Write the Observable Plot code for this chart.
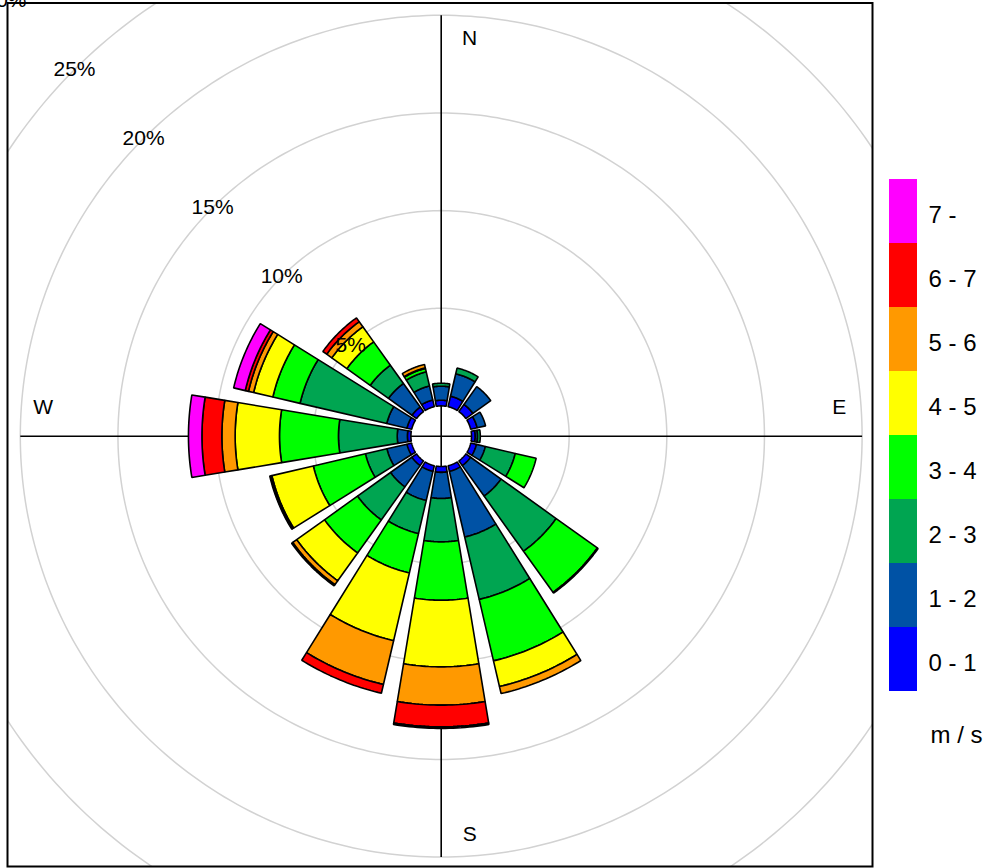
<!DOCTYPE html>
<html>
<head>
<meta charset="utf-8">
<script src="https://cdn.jsdelivr.net/npm/d3@7"></script>
<script src="https://cdn.jsdelivr.net/npm/@observablehq/plot@0.6"></script>
<style>
  html, body { margin: 0; padding: 0; background: #fff; }
  #chart { position: relative; width: 989px; height: 868px; font-family: "Liberation Sans", Arial, sans-serif; }
  #rose { position: absolute; left: 0; top: 0; }
  #key { position: absolute; left: 880px; top: 0; }
</style>
</head>
<body>
<div id="chart"><div id="rose"></div><div id="key"></div></div>
<script>
// Wind direction sectors (degrees clockwise from north), N → NNW
const directions = [0, 22.5, 45, 67.5, 90, 112.5, 135, 157.5, 180, 202.5, 225, 247.5, 270, 292.5, 315, 337.5];

// Wind speed classes (m / s) and their colours
const speedBins = ["0 - 1", "1 - 2", "2 - 3", "3 - 4", "4 - 5", "5 - 6", "6 - 7", "7 -"];
const binColors = ["#0000ff", "#0052a5", "#00a551", "#00ff00", "#ffff00", "#ff9900", "#ff0000", "#ff00ff"];

// Frequency (%) of each speed class for every direction, N → NNW
const pct0to1 = [0.29, 0.55, 0.45, 0.34, 0.19, 0.30, 0.30, 0.30, 0.30, 0.30, 0.30, 0.25, 0.18, 0.25, 0.29, 0.35];
const pct1to2 = [0.72, 1.18, 1.12, 0.44, 0.12, 0.47, 1.92, 3.45, 1.34, 1.53, 1.34, 1.05, 0.52, 1.06, 1.48, 0.74];
const pct2to3 = [0.15, 0.30, 0.00, 0.00, 0.14, 1.57, 3.47, 3.28, 2.22, 1.74, 2.08, 1.13, 3.01, 4.56, 1.15, 0.74];
const pct3to4 = [0.00, 0.00, 0.00, 0.00, 0.00, 1.10, 2.59, 3.23, 2.99, 2.07, 2.08, 2.74, 3.02, 1.43, 1.47, 0.18];
const pct4to5 = [0.00, 0.00, 0.00, 0.00, 0.00, 0.00, 0.05, 1.35, 3.41, 3.56, 1.75, 2.18, 2.27, 1.01, 0.95, 0.03];
const pct5to6 = [0.00, 0.00, 0.00, 0.00, 0.00, 0.00, 0.00, 0.37, 1.96, 2.30, 0.25, 0.08, 0.68, 0.27, 0.32, 0.18];
const pct6to7 = [0.00, 0.00, 0.00, 0.00, 0.00, 0.00, 0.00, 0.00, 1.11, 0.46, 0.07, 0.03, 1.02, 0.17, 0.24, 0.00];
const pct7up  = [0.00, 0.00, 0.00, 0.00, 0.00, 0.00, 0.00, 0.00, 0.08, 0.00, 0.00, 0.00, 0.69, 0.61, 0.00, 0.00];

// Percentage rings and compass points
const ringValues = [5, 10, 15, 20, 25, 30];
const compass = ["N", "E", "S", "W"];
const unitLabel = "m / s";

// ---- layout ----
const W = 989, H = 868;
const margin = {left: 7, right: 117, top: 2.5, bottom: 2};
const center = [440.7, 435.7];        // pixel centre of the rose
const pxPerPct = 19.53;               // radial pixels per percent
const hole = 30.3 / pxPerPct;         // empty centre, in percent units
const halfWidth = 9.4;                // half sector width, degrees
const axisExtent = 20;                // axis lines reach the 20% ring
const labelBearing = 315;             // ring labels sit on the NW diagonal

const xDomain = [(margin.left - center[0]) / pxPerPct, (W - margin.right - center[0]) / pxPerPct];
const yDomain = [-(H - margin.bottom - center[1]) / pxPerPct, (center[1] - margin.top) / pxPerPct];

const rad = (deg) => deg * Math.PI / 180;
const polar = (bearing, r) => ({x: r * Math.sin(rad(bearing)), y: r * Math.cos(rad(bearing))});

// ---- stacked sector polygons ----
const series = [pct0to1, pct1to2, pct2to3, pct3to4, pct4to5, pct5to6, pct6to7, pct7up];
const sectorPoints = [];
directions.forEach((dir, i) => {
  let base = 0;
  series.forEach((values, j) => {
    const v = values[i];
    if (!(v > 0)) return;
    const r0 = hole + base, r1 = hole + base + v;
    const id = `${dir}-${j}`;
    const steps = 24;
    for (let s = 0; s <= steps; s++) {
      const b = dir - halfWidth + (2 * halfWidth * s) / steps;
      sectorPoints.push({id, bin: speedBins[j], ...polar(b, r1)});
    }
    for (let s = steps; s >= 0; s--) {
      const b = dir - halfWidth + (2 * halfWidth * s) / steps;
      sectorPoints.push({id, bin: speedBins[j], ...polar(b, r0)});
    }
    base += v;
  });
});

// ---- grid rings ----
const ringPoints = ringValues.flatMap((p) =>
  d3.range(0, 360, 1).map((b) => ({ring: p, ...polar(b, hole + p)}))
);

// ---- axis lines N-S and W-E ----
const axisLen = hole + axisExtent;
const axisLines = [
  {x1: 0, y1: -axisLen, x2: 0, y2: axisLen},
  {x1: -axisLen, y1: 0, x2: axisLen, y2: 0}
];

// ---- labels ----
const ringLabels = ringValues.map((p) => ({text: `${p}%`, ...polar(labelBearing, hole + p)}));
const compassRadius = 398 / pxPerPct;
const compassShift = 28.5 / pxPerPct;
const compassLabels = compass.map((c, i) => {
  const bearing = i * 90;
  const p = polar(bearing, compassRadius);
  // N and S are nudged right of the axis, E and W above it
  return {text: c, x: p.x + (i % 2 === 0 ? compassShift : 0), y: p.y + (i % 2 === 1 ? compassShift : 0)};
});

const font = "Liberation Sans, Arial, sans-serif";

const rose = Plot.plot({
  width: W,
  height: H,
  marginLeft: margin.left,
  marginRight: margin.right,
  marginTop: margin.top,
  marginBottom: margin.bottom,
  x: {domain: xDomain, axis: null},
  y: {domain: yDomain, axis: null},
  color: {domain: speedBins, range: binColors},
  style: {fontFamily: font, background: "white", overflow: "visible"},
  marks: [
    Plot.line(ringPoints, {x: "x", y: "y", z: "ring", curve: "linear-closed", stroke: "#d2d2d2", strokeWidth: 1.5, clip: true}),
    Plot.link(axisLines, {x1: "x1", y1: "y1", x2: "x2", y2: "y2", stroke: "#000", strokeWidth: 1.6}),
    Plot.line(sectorPoints, {x: "x", y: "y", z: "id", fill: "bin", stroke: "#000", strokeWidth: 1.6, strokeLinejoin: "miter", curve: "linear-closed"}),
    Plot.text(ringLabels, {x: "x", y: "y", text: "text", fontSize: 21, fill: "#000"}),
    Plot.text(compassLabels, {x: "x", y: "y", text: "text", fontSize: 21, fill: "#000"}),
    Plot.frame({stroke: "#000", strokeWidth: 2})
  ]
});
document.getElementById("rose").appendChild(rose);

// ---- colour key ----
const keyOrder = [...speedBins].reverse();
const key = Plot.plot({
  width: W - 880,
  height: H,
  margin: 0,
  x: {type: "band", domain: ["swatch"], range: [9, 37], padding: 0, axis: null},
  y: {type: "band", domain: keyOrder, range: [176, 694], padding: 0, axis: null},
  color: {domain: speedBins, range: binColors},
  style: {fontFamily: font, background: "white"},
  marks: [
    Plot.cell(speedBins, {x: () => "swatch", y: (d) => d, fill: (d) => d, inset: 0}),
    Plot.text(speedBins, {x: () => "swatch", y: (d) => d, text: (d) => d, dx: 25, dy: 4, textAnchor: "start", fontSize: 24, fill: "#000"}),
    Plot.text([unitLabel], {frameAnchor: "top-left", dx: 50, dy: 735, text: (d) => d, textAnchor: "start", lineAnchor: "middle", fontSize: 24, fill: "#000"})
  ]
});
document.getElementById("key").appendChild(key);
</script>
</body>
</html>
